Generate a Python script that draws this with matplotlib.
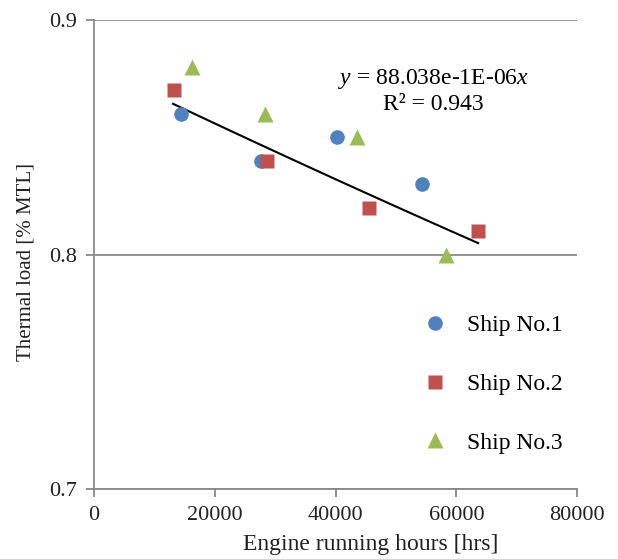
import numpy as np
import matplotlib
matplotlib.use("Agg")
import matplotlib.pyplot as plt

plt.rcParams['font.family'] = ['Liberation Serif', 'DejaVu Serif']
plt.rcParams['mathtext.fontset'] = 'custom'
plt.rcParams['mathtext.rm'] = 'Liberation Serif'
plt.rcParams['mathtext.it'] = 'Liberation Serif:italic'

ship1_x = [14400, 27600, 40200, 54300]
ship1_y = [0.86, 0.84, 0.85, 0.83]
ship2_x = [13200, 28700, 45600, 63500]
ship2_y = [0.87, 0.84, 0.82, 0.81]
ship3_x = [16200, 28400, 43600, 58300]
ship3_y = [0.88, 0.86, 0.85, 0.80]
labels = ["Ship No.1", "Ship No.2", "Ship No.3"]
colors = ["#4F81BD", "#C0504D", "#9BBB59"]
xticks = [0, 20000, 40000, 60000, 80000]
yticks = [0.7, 0.8, 0.9]
# exponential trendline: y = a * exp(-k x)
trend_a = 0.88038
trend_k = 1.41e-6
trend_range = [13100, 63600]

fig = plt.figure(figsize=(6.18, 5.59), dpi=100)
ax = fig.add_axes([0.152, 0.1252, 0.782, 0.8390])

gray = "#898989"
ax.plot(ship1_x, ship1_y, 'o', color=colors[0], ms=10.5, mec='none', label=labels[0], zorder=3)
ax.plot(ship2_x, ship2_y, 's', color=colors[1], ms=10.5, mec='none', label=labels[1], zorder=3)
ax.plot(ship3_x, ship3_y, '^', color=colors[2], ms=11, mec='none', label=labels[2], zorder=3)

xs = np.linspace(trend_range[0], trend_range[1], 50)
ax.plot(xs, trend_a * np.exp(-trend_k * xs), color='black', lw=1.5, zorder=2)

ax.text(56150, 0.8750, r"$\it{y}$ = 88.038e-1E-06$\it{x}$", ha='center', va='center', fontsize=17)
ax.text(56150, 0.8640, "R² = 0.943", ha='center', va='center', fontsize=17)

ax.set_xlim(0, 80000)
ax.set_ylim(0.7, 0.9)
ax.set_xticks(xticks)
ax.set_yticks(yticks)
ax.set_xticklabels([str(v) for v in xticks])
ax.set_yticklabels([f"{v:.1f}" for v in yticks])
ax.tick_params(axis='both', colors=gray, labelcolor='#222222', labelsize=16, length=6, width=1.3, direction='out')
ax.tick_params(axis='x', pad=6)
ax.tick_params(axis='y', pad=6)
ax.yaxis.grid(True, color=gray, lw=1.3)
ax.set_axisbelow(True)
for s in ['top', 'right']:
    ax.spines[s].set_visible(False)
for s in ['left', 'bottom']:
    ax.spines[s].set_color(gray)
    ax.spines[s].set_linewidth(1.3)

ax.set_xlabel("Engine running hours [hrs]", fontsize=17, color='#222222')
ax.xaxis.set_label_coords(0.573, -0.095)
ax.set_ylabel("Thermal load [% MTL]", fontsize=15, color='#222222')
ax.yaxis.set_label_coords(-0.12, 0.484)

leg = ax.legend(loc='upper left', bbox_to_anchor=(0.681, 0.372), frameon=False, fontsize=17,
                labelspacing=1.58, handletextpad=0.87, handlelength=1.0, borderaxespad=0, borderpad=0)

fig.savefig("out.png", dpi=100)
